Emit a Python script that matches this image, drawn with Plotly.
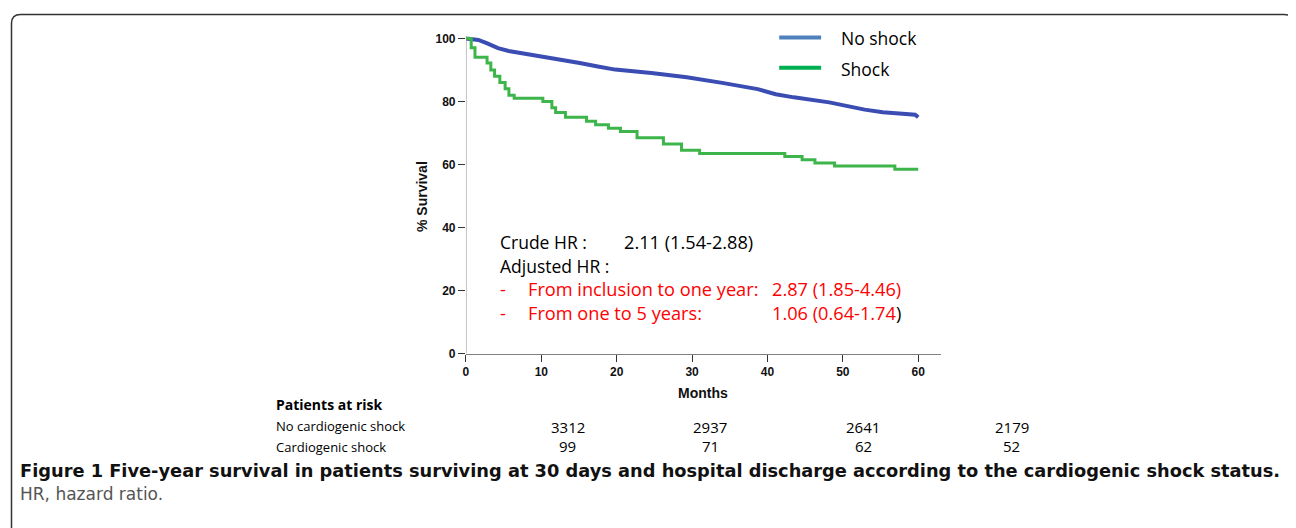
import plotly.graph_objects as go

# ---------------- data ----------------
months_no_shock = [0, 1.0, 1.65, 2.83, 4.25, 5.67, 8.0, 10.4, 12.75, 15.1, 17.5, 19.8,
                   24.6, 29.3, 34.0, 38.7, 41.1, 43.5, 48.2, 52.9, 55.3, 59.0, 59.6, 60.0]
surv_no_shock = [100, 99.8, 99.5, 98.4, 96.9, 96.0, 95.1, 94.0, 93.0, 92.2, 91.1, 90.1,
                 89.0, 87.7, 85.9, 83.9, 82.3, 81.3, 79.7, 77.4, 76.6, 76.0, 75.8, 75.0]

months_shock = [0, 0.7, 1.2, 2.8, 3.3, 3.8, 4.5, 5.2, 5.7, 6.4, 10.2, 11.4, 11.9, 13.2,
                16.0, 17.2, 18.9, 20.5, 22.7, 26.2, 28.6, 31.0, 42.3, 44.6, 46.3, 48.9,
                56.9, 60.0]
surv_shock = [100, 97, 94, 92.2, 90, 88, 86, 84, 82, 81, 80, 78, 76.5, 75,
              73.7, 72.6, 71.5, 70.5, 68.5, 66.5, 64.5, 63.5, 62.5, 61.5, 60.5, 59.5,
              58.5, 58.5]

x_ticks = [0, 10, 20, 30, 40, 50, 60]
y_ticks = [0, 20, 40, 60, 80, 100]

series_names = ["No shock", "Shock"]
risk_rows = ["No cardiogenic shock", "Cardiogenic shock"]
risk_no_shock = ["3312", "2937", "2641", "2179"]
risk_shock = ["99", "71", "62", "52"]

caption_bold = ("Figure 1 Five-year survival in patients surviving at 30 days and hospital "
                "discharge according to the cardiogenic shock status.")
caption_normal = "HR, hazard ratio."

# ---------------- layout helpers ----------------
# page body has an 8px margin, so the figure is 8px smaller and coordinates shift by 8
OFF = 8
W, H = 1296 - OFF, 528 - OFF


def px(x):
    return (x - OFF) / W


def py(y):
    return 1 - (y - OFF) / H


BLUE = "#3b4db3"
GREEN = "#3db54a"
LEG_BLUE = "#4f81bd"
LEG_GREEN = "#00b050"
RED = "#ff0000"
TXT_FONT = "Open Sans, sans-serif"
CAP_FONT = "DejaVu Sans, sans-serif"
AX_FONT = "Liberation Sans, Arial, sans-serif"

fig = go.Figure()
fig.add_trace(go.Scatter(x=months_no_shock, y=surv_no_shock, mode="lines",
                         line=dict(color=BLUE, width=4), name=series_names[0],
                         showlegend=False))
fig.add_trace(go.Scatter(x=months_shock, y=surv_shock, mode="lines", line_shape="hv",
                         line=dict(color=GREEN, width=3), name=series_names[1],
                         showlegend=False))

ann = []


def text(x, y, s, size, color="#000", bold=False, xanchor="left", font=TXT_FONT):
    ann.append(dict(x=px(x), y=py(y), xref="paper", yref="paper", text=s, showarrow=False,
                    xanchor=xanchor, yanchor="middle",
                    font=dict(family=font, size=size, color=color,
                              weight="bold" if bold else "normal")))


shapes = []
# y axis line from 0 to 100
shapes.append(dict(type="line", xref="x", yref="y", x0=0, x1=0, y0=0, y1=100,
                   line=dict(color="#808080", width=1)))

# legend (drawn manually)
for i, (nm, col) in enumerate(zip(series_names, [LEG_BLUE, LEG_GREEN])):
    yy = 34 + i * 31
    shapes.append(dict(type="line", xref="paper", yref="paper", x0=px(778), x1=px(820),
                       y0=py(yy), y1=py(yy), line=dict(color=col, width=4)))
    text(838, yy + 1, nm, 17.5)

# HR annotation
HRS = 18.2
text(496, 243, "Crude HR :", 17.5)
text(620, 243, "2.11 (1.54-2.88)", HRS)
text(496, 267, "Adjusted HR :", 17.5)
text(496, 291, "-", HRS, RED)
text(524, 291, "From inclusion to one year:", HRS, RED)
text(769, 291, "2.87 (1.85-4.46)", HRS, RED)
text(496, 315, "-", HRS, RED)
text(524, 315, "From one to 5 years:", HRS, RED)
text(769, 315, "1.06 (0.64-1.74<span style='color:#000'>)</span>", HRS, RED)

# axis titles
ann.append(dict(x=px(420), y=py(197), xref="paper", yref="paper", text="% Survival",
                showarrow=False, textangle=-90, xanchor="center", yanchor="middle",
                font=dict(family=AX_FONT, size=14, color="#111", weight="bold")))
text(702, 397, "Months", 14, "#111", True, "center", AX_FONT)

# patients at risk table
text(272, 409, "Patients at risk", 14, bold=True)
text(272, 431, risk_rows[0], 13)
text(272, 452, risk_rows[1], 13)
col_x = [566, 709, 862, 1011]
for cx, a, b in zip(col_x, risk_no_shock, risk_shock):
    text(cx, 431.5, a, 15, xanchor="center")
    text(cx, 451.5, b, 15, xanchor="center")

# caption
text(15, 476, caption_bold, 17.8, "#111", True, font=CAP_FONT)
text(15, 500, caption_normal, 17, "#555", False, font=CAP_FONT)

# rounded border (bottom edge lies below the visible area)
x0, x1, y0, y1 = px(8.5), px(1293), py(10.5), py(545)
rx, ry = 9 / W, 9 / H
path = (f"M {x0+rx},{y0} L {x1-rx},{y0} Q {x1},{y0} {x1},{y0-ry} "
        f"L {x1},{y1+ry} Q {x1},{y1} {x1-rx},{y1} L {x0+rx},{y1} "
        f"Q {x0},{y1} {x0},{y1+ry} L {x0},{y0-ry} Q {x0},{y0} {x0+rx},{y0} Z")
shapes.append(dict(type="path", xref="paper", yref="paper", path=path,
                   line=dict(color="#333", width=1.5)))

fig.update_layout(
    width=W, height=H, margin=dict(l=0, r=0, t=0, b=0),
    paper_bgcolor="white", plot_bgcolor="white",
    annotations=ann, shapes=shapes, showlegend=False,
    xaxis=dict(domain=[px(464), px(940)], range=[0, 63], tickvals=x_ticks,
               showgrid=False, zeroline=False, showline=True, linecolor="#808080",
               linewidth=1, ticks="outside", ticklen=7, tickcolor="#333", tickwidth=1,
               tickfont=dict(family=AX_FONT, size=12, color="#111", weight="bold")),
    yaxis=dict(domain=[py(357), py(32.4)], range=[0, 100.8], tickvals=y_ticks,
               showgrid=False, zeroline=False, showline=False,
               ticks="outside", ticklen=7, tickcolor="#333", tickwidth=1,
               tickfont=dict(family=AX_FONT, size=12, color="#111", weight="bold")),
)

fig.write_html("out.html")
